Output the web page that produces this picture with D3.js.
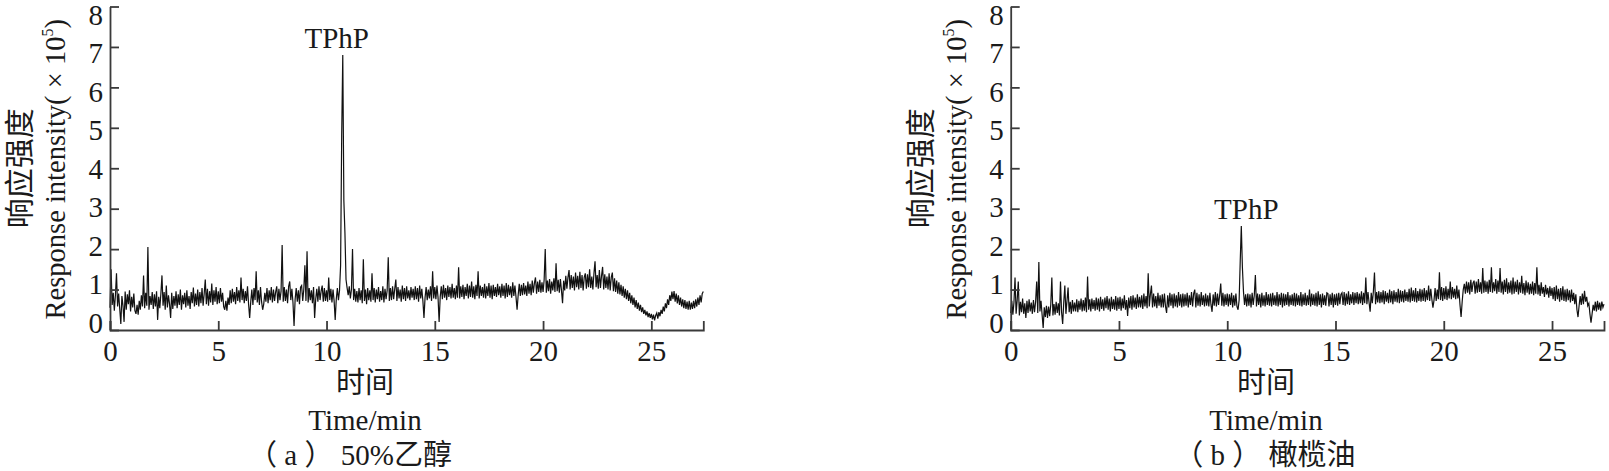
<!DOCTYPE html>
<html>
<head>
<meta charset="utf-8">
<script src="https://cdnjs.cloudflare.com/ajax/libs/d3/7.8.5/d3.min.js"></script>
<style>
	body { margin: 0; background: #fff; }
	svg { display: block; }
</style>
</head>
<body>
<div id="chart"></div>
<script>
var xTicks = [0, 5, 10, 15, 20, 25];
var yTicks = [0, 1, 2, 3, 4, 5, 6, 7, 8];
var timeEnd = 27.4;
var timeStep = 0.05; // minutes between samples

// (a) 50% ethanol, x10^5, one row per minute
var ethanolSignal = [
	0.55,1.50,0.62,0.92,0.48,0.86,1.40,0.58,0.90,0.52,0.15,0.84,0.60,0.20,0.95,0.50,0.88,0.64,0.98,0.46,
	0.82,0.56,0.90,0.48,0.40,0.62,0.38,0.72,0.50,0.86,0.58,1.35,0.54,0.92,0.60,2.05,0.50,0.84,0.62,0.94,
	0.52,0.88,0.58,0.96,0.25,0.82,0.54,0.90,1.35,0.60,0.94,0.50,1.10,0.56,0.86,0.64,0.30,0.92,0.52,0.84,
	0.60,0.96,0.54,0.88,0.62,1.00,0.50,0.86,0.64,0.92,0.56,0.98,0.60,0.84,0.52,0.94,0.66,1.05,0.58,0.90,
	0.62,1.00,0.58,0.94,0.66,1.04,0.60,0.90,1.25,0.64,1.02,0.60,0.96,0.68,1.15,0.62,0.98,0.70,1.06,0.64,
	0.96,0.66,1.04,0.70,0.92,0.58,0.50,0.72,0.48,0.80,0.62,0.98,0.66,1.02,0.70,0.94,0.64,1.06,0.72,0.98,
	0.68,1.30,0.74,1.02,0.66,0.96,0.72,1.08,0.64,0.30,0.70,1.00,0.62,1.04,0.74,1.45,0.68,0.98,0.62,1.06,
	0.70,0.50,0.64,0.92,0.70,1.04,0.66,0.98,0.74,1.06,0.68,1.00,0.72,0.94,1.08,0.66,1.02,0.74,0.96,2.10,
	0.70,1.06,0.72,1.00,0.66,1.08,1.20,0.74,1.02,0.68,0.10,0.76,1.04,0.70,0.98,0.64,1.06,1.10,0.72,1.00,
	1.60,0.72,1.95,0.68,1.04,0.74,0.98,0.66,1.06,0.30,0.76,1.02,0.70,1.08,0.74,0.96,1.10,0.70,1.04,0.72,
	0.98,0.70,1.30,0.74,1.02,0.68,1.00,0.72,0.25,0.76,1.04,0.74,0.98,1.60,4.80,6.80,3.20,2.40,1.25,1.04,
	0.86,1.08,0.78,1.00,2.00,0.74,1.02,0.70,0.96,0.68,1.04,0.74,0.98,0.66,1.75,0.72,1.00,0.64,1.04,0.74,
	0.98,0.70,1.40,0.74,1.04,0.68,1.00,0.76,1.06,0.70,0.96,0.74,1.08,0.68,1.02,0.76,0.98,1.80,0.72,1.04,
	0.74,1.08,0.76,1.02,1.25,0.72,1.06,0.78,1.00,0.70,1.10,0.76,1.04,0.72,1.08,0.78,0.98,0.74,1.06,0.80,
	1.02,0.74,1.08,0.76,1.04,0.70,1.10,0.78,1.02,0.72,0.30,0.80,1.06,0.74,1.00,0.78,1.08,0.72,1.45,0.78,
	1.06,0.76,1.10,0.80,0.20,0.82,1.08,0.76,1.12,0.80,1.04,0.74,1.10,0.82,1.06,0.78,1.14,0.80,1.04,0.76,
	1.10,0.80,1.55,0.78,1.08,0.82,1.12,0.76,1.06,0.84,1.14,0.78,1.10,0.82,1.20,0.80,1.08,0.76,1.12,0.84,
	1.45,0.78,1.10,0.84,1.06,0.80,1.14,0.78,1.08,0.84,1.16,0.80,1.10,0.76,1.12,0.84,1.06,0.82,1.14,0.86,
	1.08,0.80,1.14,0.84,1.10,0.78,1.16,0.82,1.12,0.86,1.08,0.80,1.18,0.84,1.10,0.82,0.50,0.86,1.14,0.84,
	1.12,0.86,1.16,0.88,1.10,0.84,1.20,0.90,1.14,0.86,1.22,0.92,1.16,1.30,0.90,1.20,0.94,1.24,0.92,1.18,
	0.94,1.24,2.00,0.92,1.22,0.96,1.26,0.90,1.20,0.98,1.28,0.94,1.65,0.96,1.24,0.92,1.26,0.98,0.66,1.22,
	0.98,1.34,1.02,1.30,1.48,1.00,1.36,1.04,1.32,0.98,1.42,1.06,1.34,1.00,1.44,1.04,1.36,0.98,1.30,1.40,
	1.02,1.38,1.06,1.50,1.04,1.32,1.00,1.40,1.70,1.06,1.36,1.02,1.48,1.04,1.34,1.56,1.00,1.38,1.04,1.32,
	1.00,1.40,0.98,1.30,1.42,0.96,1.28,0.94,1.22,0.90,1.18,0.88,1.12,0.84,1.08,0.80,1.02,0.76,0.98,0.72,
	0.92,0.66,0.86,0.62,0.80,0.56,0.74,0.52,0.68,0.48,0.62,0.44,0.56,0.40,0.50,0.36,0.46,0.32,0.42,0.30,
	0.40,0.26,0.38,0.24,0.36,0.42,0.28,0.44,0.34,0.50,0.40,0.58,0.46,0.66,0.54,0.76,0.62,0.86,0.72,0.95,
	0.76,0.96,0.70,0.90,0.66,0.86,0.62,0.80,0.58,0.76,0.54,0.74,0.52,0.70,0.50,0.72,0.50,0.68,0.52,0.72,
	0.54,0.76,0.58,0.80,0.62,0.86,0.68,0.90,0.95
];

// (b) olive oil, x10^5
var oliveOilSignal = [
	0.42,0.72,0.38,0.68,1.30,0.40,0.74,1.20,0.36,0.70,0.44,0.78,0.40,0.66,0.30,0.72,0.42,0.76,0.46,0.68,
	0.40,0.74,0.44,0.70,1.20,0.42,1.68,0.46,0.72,0.38,0.05,0.56,0.32,0.60,0.30,0.58,0.34,0.62,1.30,0.36,
	0.64,0.38,0.70,0.42,0.66,0.36,1.20,0.44,0.15,0.68,1.10,0.40,0.72,1.05,0.44,0.70,0.40,0.74,0.46,0.68,
	0.46,0.76,0.44,0.72,0.50,0.78,0.46,0.74,0.48,0.80,0.44,1.32,0.50,0.76,0.46,0.78,0.52,0.74,0.48,0.80,
	0.50,0.78,0.46,0.82,0.52,0.76,0.48,0.80,0.54,0.84,0.50,0.78,0.46,0.82,0.52,0.76,0.50,0.84,0.48,0.80,
	0.52,0.82,0.48,0.78,0.54,0.86,0.50,0.74,0.35,0.80,0.54,0.84,0.50,0.86,0.56,0.80,0.52,0.88,0.56,0.82,
	0.56,0.86,0.52,0.90,0.58,0.84,0.54,1.40,0.58,0.88,1.10,0.56,0.90,0.58,0.84,0.54,0.92,0.60,0.86,0.56,
	0.88,0.56,0.90,0.58,0.42,0.86,0.56,0.92,0.60,0.88,0.54,0.90,0.58,0.86,0.56,0.94,0.60,0.88,0.56,0.90,
	0.58,0.88,0.60,0.92,0.56,0.86,0.62,0.94,0.58,0.90,1.00,0.56,0.92,0.60,0.88,0.58,0.94,0.62,0.86,0.58,
	0.90,0.60,0.86,0.58,0.92,0.62,0.45,0.88,0.60,0.94,0.58,0.90,0.62,0.86,1.15,0.60,0.92,0.58,0.88,0.62,
	0.90,0.58,0.88,0.62,0.92,0.56,0.86,0.60,0.90,0.58,0.50,0.74,1.70,2.57,1.55,0.95,0.62,0.88,0.58,0.90,
	0.60,0.88,0.56,0.92,0.62,0.86,1.36,0.58,0.90,0.62,0.88,0.56,0.92,0.60,0.86,0.58,0.94,0.62,0.88,0.60,
	0.90,0.58,0.92,0.62,0.86,0.60,0.94,0.58,0.88,0.62,0.92,0.56,0.90,0.60,0.88,0.62,0.94,0.58,0.86,0.62,
	0.88,0.60,0.92,0.58,0.90,0.62,0.86,0.60,0.94,0.58,0.88,0.62,0.92,0.60,0.86,0.62,1.00,0.58,0.90,0.62,
	0.88,0.60,0.92,0.58,0.96,0.62,0.88,0.56,0.90,0.62,0.86,0.60,0.92,0.90,0.58,0.88,0.62,0.92,0.56,0.88,
	0.62,0.90,0.60,0.92,0.64,0.88,0.92,0.62,0.94,0.60,0.90,0.64,0.96,0.62,0.88,0.66,0.94,0.62,0.92,0.66,
	0.94,0.64,0.90,0.66,0.96,0.62,0.92,0.66,1.30,0.64,0.94,0.68,0.45,0.92,0.66,0.96,1.42,0.64,0.94,0.68,
	0.96,0.66,0.94,0.68,0.98,0.64,0.96,0.70,0.92,0.66,1.00,0.68,0.96,0.64,0.98,0.70,0.94,0.68,1.02,0.66,
	0.98,0.70,0.96,0.68,1.00,0.72,0.94,0.70,1.02,0.68,1.05,0.72,0.98,0.70,1.04,0.68,0.96,0.72,1.02,0.70,
	1.00,0.72,1.04,0.70,0.98,0.74,1.10,0.72,1.02,0.76,0.55,0.74,1.04,0.72,1.00,0.76,1.43,0.74,1.06,0.72,
	1.04,0.76,1.08,0.74,1.02,0.78,1.20,0.76,1.06,0.80,1.02,0.76,1.10,0.78,1.00,0.62,0.32,0.70,1.00,1.14,
	0.90,1.20,0.92,1.18,0.88,1.24,0.94,1.16,1.22,0.90,1.20,0.92,1.26,0.94,1.18,0.90,1.53,0.92,1.22,0.94,
	1.20,0.90,1.24,0.94,1.55,0.92,1.18,0.96,1.26,0.90,1.22,0.94,1.53,0.92,1.20,0.88,1.24,0.94,1.28,0.90,
	1.18,0.92,1.22,0.88,1.30,0.90,1.20,0.94,1.24,0.88,1.18,0.92,1.34,0.90,1.16,0.86,1.22,0.92,1.18,0.88,
	1.14,0.90,1.20,0.86,1.16,0.90,1.55,0.88,1.12,0.84,1.18,0.90,1.06,0.82,1.12,0.88,1.04,0.80,1.08,0.84,
	1.04,0.76,1.06,0.72,1.10,0.76,1.02,0.70,1.04,0.74,1.08,0.72,1.00,0.70,1.02,0.74,0.98,0.68,1.00,0.72,
	0.92,0.64,0.88,0.50,0.32,0.60,0.84,0.62,0.90,0.64,0.97,0.70,0.82,0.60,0.66,0.40,0.18,0.40,0.62,0.48,
	0.70,0.46,0.72,0.50,0.68,0.48,0.70,0.56,0.64
];

var panels = [
	{signal: ethanolSignal, peakTime: 10.75, peakLabel: 'TPhP', caption: '（ a ） 50%乙醇'},
	{signal: oliveOilSignal, peakTime: 10.65, peakLabel: 'TPhP', caption: '（ b ） 橄榄油'}
];

// layout
var width = 1609;
var height = 471;
var axisLeft = [110, 1010.7];
var plotWidth = 593.3;
var yTop = 6.5;
var yBottom = 330;
var tickLen = 9;
var latin = '"Liberation Serif", "Times New Roman", serif';
var cjk = '"Liberation Serif", "Noto Sans CJK SC", sans-serif';
var ink = '#1a1a1a';
var axisColor = '#3a3a3a';
var panelLayout = [
	{titleX: 365, captionX: 350, labelDx: -6},
	{titleX: 1266, captionX: 1265, labelDx: 5}
];

var svg = d3.select('#chart')
	.append('svg')
	.attr('width', width)
	.attr('height', height);

panels.forEach(function(p, k){
	drawPanel(p, panelLayout[k], axisLeft[k]);
});

function drawPanel(p, lay, left){
	var x = d3.scaleLinear()
		.domain([0, timeEnd])
		.range([left, left + plotWidth]);
	var y = d3.scaleLinear()
		.domain([0, 8])
		.range([yBottom, yTop]);
	// tick labels sit slightly closer together than the ticks in the original
	var yLab = d3.scaleLinear()
		.domain([0, 8])
		.range([323, 15]);

	var g = svg.append('g');

	var line = d3.line()
		.x(function(d, i){ return x(i * timeStep); })
		.y(function(d){ return y(d); });

	g.append('path')
		.datum(p.signal)
		.attr('d', line)
		.attr('fill', 'none')
		.attr('stroke', '#111')
		.attr('stroke-width', 1.2);

	var xAxis = g.append('g')
		.attr('transform', 'translate(0,' + yBottom + ')')
		.call(d3.axisBottom(x)
			.tickValues(xTicks)
			.tickSize(-tickLen)
			.tickPadding(10)
			.tickFormat(d3.format('d')));

	var yAxis = g.append('g')
		.attr('transform', 'translate(' + left + ',0)')
		.call(d3.axisLeft(y)
			.tickValues(yTicks)
			.tickSize(-tickLen)
			.tickSizeOuter(0)
			.tickFormat(''));

	var yLabels = g.append('g')
		.attr('transform', 'translate(' + left + ',0)')
		.call(d3.axisLeft(yLab)
			.tickValues(yTicks)
			.tickSize(0)
			.tickPadding(7)
			.tickFormat(d3.format('d')));
	yLabels.select('.domain').remove();

	[xAxis, yAxis, yLabels].forEach(function(a){
		a.attr('font-family', latin).attr('font-size', 29);
		a.selectAll('.domain, .tick line')
			.attr('stroke', axisColor)
			.attr('stroke-width', 1.8);
		a.selectAll('text')
			.attr('font-family', latin)
			.attr('fill', ink);
	});

	// peak label
	var peakValue = p.signal[Math.round(p.peakTime / timeStep)];
	g.append('text')
		.attr('x', x(p.peakTime) + lay.labelDx)
		.attr('y', y(peakValue) - 7)
		.attr('text-anchor', 'middle')
		.attr('font-family', latin)
		.attr('font-size', 29)
		.attr('fill', ink)
		.text(p.peakLabel);

	// y titles
	var yMid = (yTop + yBottom) / 2;
	g.append('text')
		.attr('transform', 'translate(' + (left - 80) + ',' + yMid + ') rotate(-90)')
		.attr('text-anchor', 'middle')
		.attr('font-family', cjk)
		.attr('font-size', 30)
		.attr('fill', ink)
		.text('响应强度');

	var t = g.append('text')
		.attr('transform', 'translate(' + (left - 45) + ',' + (yMid + 1) + ') rotate(-90)')
		.attr('text-anchor', 'middle')
		.attr('font-family', latin)
		.attr('font-size', 28.5)
		.attr('fill', ink);
	t.append('tspan').text('Response intensity( × 10');
	t.append('tspan')
		.attr('font-size', 16)
		.attr('dy', -12)
		.text('5');
	t.append('tspan')
		.attr('dy', 12)
		.text(')');

	// x titles
	g.append('text')
		.attr('x', lay.titleX)
		.attr('y', 393)
		.attr('text-anchor', 'middle')
		.attr('font-family', cjk)
		.attr('font-size', 29)
		.attr('fill', ink)
		.text('时间');

	g.append('text')
		.attr('x', lay.titleX)
		.attr('y', 430)
		.attr('text-anchor', 'middle')
		.attr('font-family', latin)
		.attr('font-size', 29)
		.attr('fill', ink)
		.text('Time/min');

	g.append('text')
		.attr('x', lay.captionX)
		.attr('y', 465)
		.attr('text-anchor', 'middle')
		.attr('font-family', cjk)
		.attr('font-size', 29)
		.attr('fill', ink)
		.text(p.caption);
}
</script>
</body>
</html>
